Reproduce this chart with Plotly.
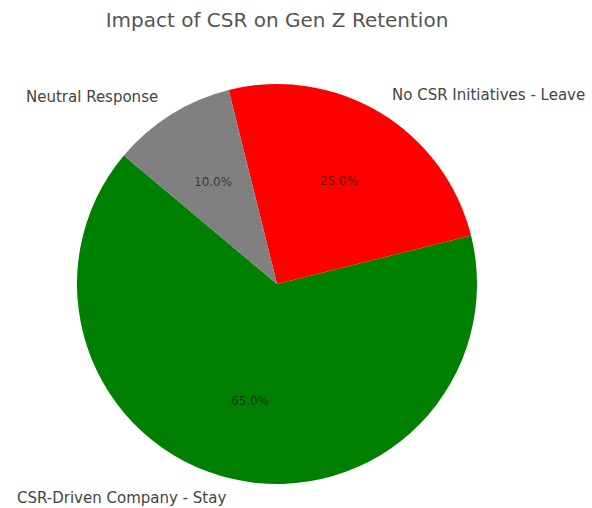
import math
import plotly.graph_objects as go

# Survey shares
labels = ["CSR-Driven Company - Stay", "No CSR Initiatives - Leave", "Neutral Response"]
values = [65, 25, 10]
colors = ["green", "red", "gray"]

W, H = 592, 508
START_ANGLE = 140          # degrees, counterclockwise from 3 o'clock
CX, CY, R = 277, 284, 200  # pie centre and radius in pixels

total = sum(values)
# plotly's counterclockwise pies anchor the end of the first slice at `rotation`
first_end = START_ANGLE + 360 * values[0] / total
rotation = (90 - first_end) % 360

fig = go.Figure(go.Pie(
    labels=labels,
    values=values,
    marker=dict(colors=colors, line=dict(width=0)),
    sort=False,
    direction="counterclockwise",
    rotation=rotation,
    textinfo="none",
    hoverinfo="label+percent",
    showlegend=False,
    domain=dict(x=[(CX - R) / W, (CX + R) / W],
                y=[1 - (CY + R) / H, 1 - (CY - R) / H]),
))

# Outer labels and inner percentages placed along each slice's mid-angle
angle = START_ANGLE
annotations = []
for lab, val in zip(labels, values):
    span = 360 * val / total
    mid = math.radians(angle + span / 2)
    angle += span
    c, s = math.cos(mid), math.sin(mid)
    # label at 1.1 R
    lx = CX + 1.1 * R * c
    ly = CY - 1.1 * R * s
    annotations.append(dict(
        x=lx / W, y=1 - ly / H, xref="paper", yref="paper",
        text=lab, showarrow=False,
        xanchor="left" if c >= 0 else "right", yanchor="middle",
        font=dict(family="DejaVu Sans", size=15, color="#444444"),
    ))
    # percentage at 0.6 R
    px = CX + 0.6 * R * c
    py = CY - 0.6 * R * s
    annotations.append(dict(
        x=px / W, y=1 - py / H, xref="paper", yref="paper",
        text=f"{100 * val / total:.1f}%", showarrow=False,
        xanchor="center", yanchor="middle",
        font=dict(family="DejaVu Sans", size=12, color="rgba(20,20,20,0.7)"),
    ))

fig.update_layout(
    width=W, height=H,
    margin=dict(l=0, r=0, t=0, b=0),
    paper_bgcolor="white",
    plot_bgcolor="white",
    title=dict(text="Impact of CSR on Gen Z Retention",
               x=CX / W, xanchor="center", y=1 - 20 / H, yanchor="middle",
               font=dict(family="DejaVu Sans", size=20, color="#555555")),
    annotations=annotations,
)

fig.write_html("out.html")
